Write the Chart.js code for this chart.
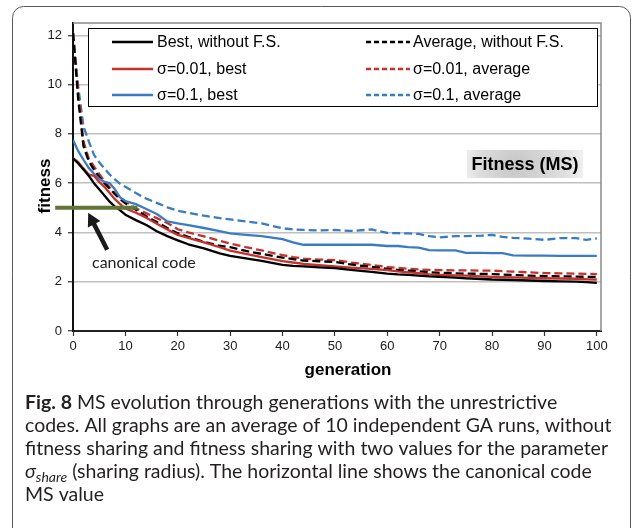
<!DOCTYPE html>
<html>
<head>
<meta charset="utf-8">
<script src="https://cdn.jsdelivr.net/npm/chart.js@4.4.1/dist/chart.umd.min.js"></script>
<style>
  html, body { margin: 0; padding: 0; background: #fff; }
  canvas { display: block; }
</style>
</head>
<body>
<canvas id="canvasFitness" width="634" height="528"></canvas>
<script>
// generations sampled along the runs
const generations = [0,1,2,3,4,5,6,7,8,9,10,12,14,16,18,20,22,25,28,30,33,36,40,42,44,47,50,53,57,60,62,64,66,68,70,73,75,78,80,82,84,87,90,93,96,98,100];

const bestNoFs  = [7.0,6.8,6.55,6.3,6.0,5.75,5.5,5.25,5.05,4.9,4.72,4.5,4.3,4.05,3.85,3.68,3.52,3.35,3.15,3.05,2.95,2.85,2.68,2.64,2.62,2.58,2.55,2.48,2.4,2.33,2.3,2.28,2.25,2.22,2.2,2.17,2.14,2.11,2.09,2.08,2.07,2.05,2.03,2.01,2.0,1.98,1.95];
const avgNoFs   = [12.1,9.4,7.5,6.9,6.55,6.25,6.0,5.78,5.55,5.35,5.18,4.92,4.66,4.42,4.18,3.97,3.82,3.62,3.46,3.4,3.25,3.13,2.98,2.92,2.86,2.83,2.8,2.7,2.6,2.52,2.48,2.45,2.42,2.38,2.36,2.34,2.33,2.32,2.31,2.29,2.27,2.25,2.23,2.22,2.21,2.2,2.2];
const bestS001  = [7.02,6.85,6.6,6.35,6.3,6.05,5.85,5.6,5.35,5.15,4.97,4.8,4.6,4.35,4.12,3.9,3.78,3.6,3.4,3.26,3.13,3.0,2.84,2.78,2.72,2.67,2.62,2.57,2.52,2.47,2.42,2.38,2.35,2.3,2.28,2.26,2.25,2.22,2.2,2.19,2.18,2.16,2.14,2.13,2.12,2.1,2.09];
const avgS001   = [12.1,9.6,7.7,7.0,6.68,6.38,6.08,5.82,5.6,5.42,5.26,4.98,4.78,4.58,4.38,4.13,4.0,3.84,3.66,3.55,3.4,3.27,3.08,3.0,2.94,2.9,2.88,2.78,2.68,2.6,2.56,2.53,2.5,2.48,2.47,2.46,2.46,2.45,2.45,2.43,2.41,2.38,2.35,2.34,2.33,2.32,2.31];
const bestS01   = [7.75,7.3,6.95,6.62,6.38,6.18,6.05,6.0,5.75,5.42,5.27,5.15,4.95,4.75,4.45,4.37,4.3,4.18,4.05,3.96,3.9,3.85,3.73,3.6,3.5,3.5,3.5,3.5,3.5,3.45,3.45,3.4,3.38,3.28,3.27,3.27,3.17,3.17,3.16,3.16,3.07,3.06,3.06,3.05,3.05,3.05,3.05];
const avgS01    = [12.1,9.9,8.3,7.7,7.15,6.85,6.6,6.35,6.15,5.97,5.85,5.6,5.37,5.2,5.02,4.88,4.8,4.68,4.58,4.53,4.45,4.37,4.17,4.12,4.1,4.08,4.1,4.06,4.12,3.98,3.97,3.96,3.94,3.85,3.8,3.85,3.85,3.87,3.9,3.82,3.78,3.75,3.7,3.77,3.77,3.7,3.76];

// MS value of the canonical code, marked as a short horizontal bar
const canonicalGen = [-3.4, 12.3];
const canonicalFitness = 5;

const xTicks = [0,10,20,30,40,50,60,70,80,90,100];
const yTicks = [0,2,4,6,8,10,12];

const seriesLabels = ['Best, without F.S.', 'σ=0.01, best', 'σ=0.1, best',
                      'Average, without F.S.', 'σ=0.01, average', 'σ=0.1, average'];

const BLACK = '#000000';
const RED = '#c8302c';
const BLUE = '#3a7cc4';
const GREEN = '#617536';

function series(values) {
    return generations.map((g, i) => ({ x: g, y: values[i] }));
}

function lineSet(label, values, color, dashed) {
    return {
        label: label,
        data: series(values),
        borderColor: color,
        borderWidth: 2.3,
        borderDash: dashed ? [8, 4] : [],
        pointRadius: 0,
        fill: false
    };
}

const captionLines = [
    [['b', 'Fig. 8'], ['r', ' MS evolution through generations with the unrestrictive']],
    [['r', 'codes. All graphs are an average of 10 independent GA runs, without']],
    [['r', 'fitness sharing and fitness sharing with two values for the parameter']],
    [['i', 'σ'], ['s', 'share'], ['r', ' (sharing radius). The horizontal line shows the canonical code']],
    [['r', 'MS value']]
];

const decorations = {
    id: 'decorations',
    beforeDraw(chart) {
        const c = chart.ctx;
        c.save();
        c.fillStyle = '#fff';
        c.fillRect(0, 0, chart.width, chart.height);
        // outer rounded frame
        c.strokeStyle = '#5a5a5a';
        c.lineWidth = 1;
        c.beginPath();
        c.roundRect(12.5, 6.5, 618, 600, 11);
        c.stroke();
        c.restore();
    },
    beforeDatasetsDraw(chart) {
        const c = chart.ctx, a = chart.chartArea;
        c.save();
        c.strokeStyle = '#8a8a8a';
        c.lineWidth = 1.5;
        c.beginPath();
        c.moveTo(a.left, a.top);
        c.lineTo(a.right, a.top);
        c.lineTo(a.right, a.bottom);
        c.stroke();
        c.restore();
    },
    afterDraw(chart) {
        const c = chart.ctx;
        const xs = chart.scales.x, ys = chart.scales.y;
        c.save();

        // axis titles
        c.fillStyle = '#000';
        c.font = 'bold 17px "Liberation Sans", Arial, sans-serif';
        c.textAlign = 'center';
        c.textBaseline = 'alphabetic';
        c.fillText('generation', 348, 375);
        c.save();
        c.translate(50, 186);
        c.rotate(-Math.PI / 2);
        c.fillText('fitness', 0, 0);
        c.restore();

        // legend
        c.fillStyle = '#fff';
        c.fillRect(88.5, 28.5, 509, 78);
        c.strokeStyle = '#000';
        c.lineWidth = 1;
        c.strokeRect(88.5, 28.5, 509, 78);
        const rows = [42, 69, 95];
        c.font = '16px "Liberation Sans", Arial, sans-serif';
        c.textAlign = 'left';
        c.textBaseline = 'middle';
        chart.data.datasets.slice(1).forEach((ds, i) => {
            const col = i < 3 ? 0 : 1;
            const y = rows[i % 3];
            const x0 = col ? 366 : 112, x1 = col ? 410 : 153;
            c.strokeStyle = ds.borderColor;
            c.lineWidth = 2.5;
            c.setLineDash(col ? [5, 3] : []);
            c.beginPath();
            c.moveTo(x0, y);
            c.lineTo(x1, y);
            c.stroke();
            c.setLineDash([]);
            c.fillStyle = '#000';
            c.fillText(ds.label, col ? 413 : 157, y + 1);
        });

        // "Fitness (MS)" tag
        const g = c.createRadialGradient(515, 166, 4, 525, 164, 70);
        g.addColorStop(0, '#c9c9c9');
        g.addColorStop(0.6, '#dedede');
        g.addColorStop(1, '#fbfbfb');
        c.fillStyle = g;
        c.fillRect(467, 150, 116, 28);
        c.fillStyle = '#000';
        c.font = 'bold 18px "Liberation Sans", Arial, sans-serif';
        c.textAlign = 'center';
        c.fillText('Fitness (MS)', 525, 165);

        // arrow pointing at the canonical code bar
        const hx = xs.getPixelForValue(2.9), hy = ys.getPixelForValue(4.8);
        const tx = hx + 19, ty = hy + 37;
        const ang = Math.atan2(hy - ty, hx - tx);
        c.strokeStyle = '#1a1a1a';
        c.fillStyle = '#1a1a1a';
        c.lineWidth = 4.5;
        c.beginPath();
        c.moveTo(tx, ty);
        c.lineTo(hx - 10 * Math.cos(ang), hy - 10 * Math.sin(ang));
        c.stroke();
        c.beginPath();
        c.moveTo(hx, hy);
        c.lineTo(hx - 13 * Math.cos(ang) + 7 * Math.sin(ang), hy - 13 * Math.sin(ang) - 7 * Math.cos(ang));
        c.lineTo(hx - 13 * Math.cos(ang) - 7 * Math.sin(ang), hy - 13 * Math.sin(ang) + 7 * Math.cos(ang));
        c.closePath();
        c.fill();

        c.fillStyle = '#222';
        c.font = '16px Lato, "Noto Sans", sans-serif';
        c.textAlign = 'left';
        c.textBaseline = 'middle';
        c.fillText('canonical code', 92, 263);

        // caption
        const fam = 'Lato, "Noto Sans", sans-serif';
        const size = 19.5;
        const fonts = {
            b: 'bold ' + size + 'px ' + fam,
            r: size + 'px ' + fam,
            i: 'italic ' + size + 'px ' + fam,
            s: 'italic ' + Math.round(size * 0.72) + 'px ' + fam
        };
        c.fillStyle = '#231f20';
        c.textAlign = 'left';
        c.textBaseline = 'alphabetic';
        captionLines.forEach((line, li) => {
            let x = 25;
            const y = 409 + li * 23;
            line.forEach(([kind, text]) => {
                c.font = fonts[kind];
                c.fillText(text, x, kind === 's' ? y + 4 : y);
                x += c.measureText(text).width;
            });
        });

        c.restore();
    }
};

const ctx = document.getElementById('canvasFitness').getContext('2d');

const fitnessChart = new Chart(ctx, {
    type: 'line',
    data: {
        datasets: [
            {
                label: 'canonical code',
                data: canonicalGen.map(g => ({ x: g, y: canonicalFitness })),
                borderColor: GREEN,
                borderWidth: 4,
                pointRadius: 0,
                clip: false,
                order: -1
            },
            lineSet(seriesLabels[0], bestNoFs, BLACK, false),
            lineSet(seriesLabels[1], bestS001, RED, false),
            lineSet(seriesLabels[2], bestS01, BLUE, false),
            lineSet(seriesLabels[3], avgNoFs, BLACK, true),
            lineSet(seriesLabels[4], avgS001, RED, true),
            lineSet(seriesLabels[5], avgS01, BLUE, true)
        ]
    },
    options: {
        responsive: false,
        animation: false,
        layout: { padding: { left: 0, top: 23, right: 33, bottom: 0 } },
        elements: { line: { tension: 0, borderCapStyle: 'butt', borderJoinStyle: 'round' } },
        plugins: {
            legend: { display: false },
            tooltip: { enabled: false }
        },
        scales: {
            x: {
                type: 'linear',
                min: 0,
                max: 100.8,
                afterBuildTicks: s => { s.ticks = xTicks.map(v => ({ value: v })); },
                afterFit: s => { s.height = 197; },
                ticks: {
                    maxRotation: 0,
                    autoSkip: false,
                    padding: 3,
                    color: '#1a1a1a',
                    font: { family: '"Liberation Sans", Arial, sans-serif', size: 13 }
                },
                grid: { drawOnChartArea: false, tickLength: 5, tickColor: '#333', tickWidth: 1.2 },
                border: { color: '#222', width: 2 }
            },
            y: {
                min: 0,
                max: 12.5,
                afterBuildTicks: s => { s.ticks = yTicks.map(v => ({ value: v })); },
                afterFit: s => { s.width = 73; },
                ticks: {
                    padding: 6,
                    color: '#1a1a1a',
                    font: { family: '"Liberation Sans", Arial, sans-serif', size: 13 }
                },
                grid: { color: '#c0c0c0', lineWidth: 1.5, tickLength: 5, tickColor: '#333', tickWidth: 1.2 },
                border: { color: '#111', width: 2 }
            }
        }
    },
    plugins: [decorations]
});
</script>
</body>
</html>
